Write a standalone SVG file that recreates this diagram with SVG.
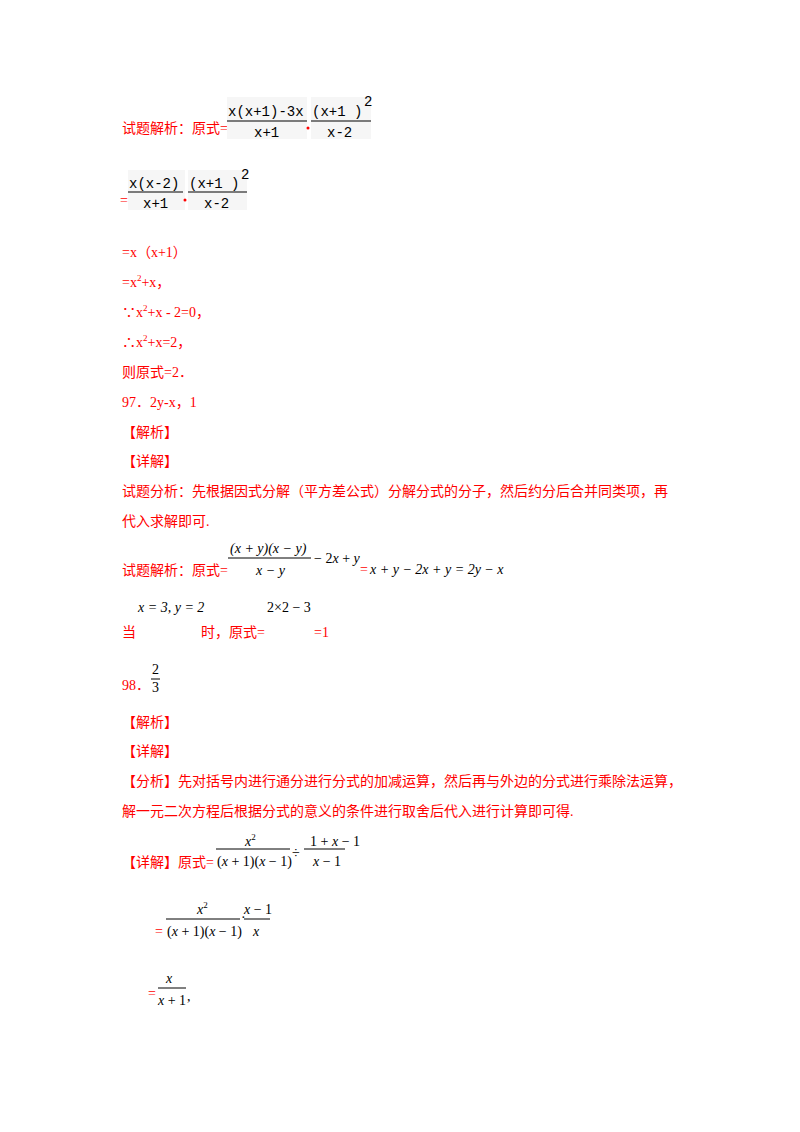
<svg xmlns="http://www.w3.org/2000/svg" width="800" height="1132" viewBox="0 0 800 1132">
<style>
.r{fill:#ff0000;font-family:"Liberation Serif","Noto Sans CJK SC",serif;font-size:14px}
.m{fill:#000;font-family:"Liberation Serif",serif;font-size:14px}
.i{font-style:italic}
.s{fill:#000;font-family:"Liberation Mono",monospace;font-size:14px}
.b{stroke:#000;stroke-width:1}
</style>
<rect width="800" height="1132" fill="#fff"/>
<text class="r" x="122" y="133">试题解析：原式=</text>
<rect x="227" y="97" width="80" height="42" fill="#f6f6f6"/>
<rect x="311" y="97" width="60" height="42" fill="#f6f6f6"/>
<text class="s" x="228" y="116">x(x+1)-3x</text>
<line class="b" x1="227" y1="121" x2="307" y2="121"/>
<text class="s" x="254" y="137">x+1</text>
<circle cx="308" cy="128" r="1.5" fill="#f00"/>
<text class="s" x="312" y="116">(x+1 )</text><text class="s" x="364" y="106" font-size="11">2</text>
<line class="b" x1="311" y1="121" x2="371" y2="121"/>
<text class="s" x="327" y="137">x-2</text>
<text class="r" x="120" y="205">=</text>
<rect x="128" y="170" width="57" height="40" fill="#f6f6f6"/>
<rect x="188" y="170" width="59" height="40" fill="#f6f6f6"/>
<text class="s" x="129" y="188">x(x-2)</text>
<line class="b" x1="128" y1="192" x2="183" y2="192"/>
<text class="s" x="143" y="208">x+1</text>
<circle cx="185" cy="200" r="1.5" fill="#f00"/>
<text class="s" x="189" y="188">(x+1 )</text><text class="s" x="241" y="179" font-size="11">2</text>
<line class="b" x1="188" y1="192" x2="247" y2="192"/>
<text class="s" x="204" y="208">x-2</text>
<text class="r" x="122" y="257">=x（x+1）</text>
<text class="r" x="122" y="287">=x<tspan font-size="9" dy="-6">2</tspan><tspan dy="6">+x，</tspan></text>
<text class="r" x="122" y="317">∵x<tspan font-size="9" dy="-6">2</tspan><tspan dy="6">+x - 2=0，</tspan></text>
<text class="r" x="122" y="347">∴x<tspan font-size="9" dy="-6">2</tspan><tspan dy="6">+x=2，</tspan></text>
<text class="r" x="122" y="377">则原式=2．</text>
<text class="r" x="122" y="407">97．2y-x，1</text>
<text class="r" x="122" y="437">【解析】</text>
<text class="r" x="122" y="466">【详解】</text>
<text class="r" x="122" y="496">试题分析：先根据因式分解（平方差公式）分解分式的分子，然后约分后合并同类项，再</text>
<text class="r" x="122" y="526">代入求解即可.</text>
<text class="r" x="122" y="575">试题解析：原式=</text>
<text class="m i" x="230" y="553">(x + y)(x − y)</text>
<line class="b" x1="228" y1="558" x2="311" y2="558"/>
<text class="m i" x="256" y="575">x − y</text>
<text class="m" x="314" y="563">− 2<tspan class="i">x</tspan> + <tspan class="i">y</tspan></text>
<text class="r" x="360" y="574">=</text>
<text class="m i" x="370" y="574">x + y − 2x + y = 2y − x</text>
<text class="r" x="122" y="637">当</text>
<text class="m i" x="138" y="612">x = 3, y = 2</text>
<text class="r" x="201" y="637">时，原式=</text>
<text class="m" x="267" y="612">2×2 − 3</text>
<text class="r" x="314" y="637">=1</text>
<text class="r" x="122" y="690">98．</text>
<text class="m" x="152" y="674">2</text>
<line class="b" x1="151" y1="679" x2="160" y2="679"/>
<text class="m" x="152" y="692">3</text>
<text class="r" x="122" y="727">【解析】</text>
<text class="r" x="122" y="756">【详解】</text>
<text class="r" x="122" y="786">【分析】先对括号内进行通分进行分式的加减运算，然后再与外边的分式进行乘除法运算，</text>
<text class="r" x="122" y="816">解一元二次方程后根据分式的意义的条件进行取舍后代入进行计算即可得.</text>
<text class="r" x="122" y="867">【详解】原式=</text>
<text class="m i" x="245" y="846">x<tspan font-size="9" dy="-6" font-style="normal">2</tspan></text>
<line class="b" x1="216" y1="849" x2="290" y2="849"/>
<text class="m" x="217" y="866">(<tspan class="i">x</tspan> + 1)(<tspan class="i">x</tspan> − 1)</text>
<text class="m" x="292" y="858">÷</text>
<text class="m" x="310" y="846">1 + <tspan class="i">x</tspan> − 1</text>
<line class="b" x1="304" y1="849" x2="345" y2="849"/>
<text class="m" x="313" y="866"><tspan class="i">x</tspan> − 1</text>
<text class="r" x="155" y="936">=</text>
<text class="m i" x="197" y="914">x<tspan font-size="9" dy="-6" font-style="normal">2</tspan></text>
<line class="b" x1="166" y1="919" x2="240" y2="919"/>
<text class="m" x="167" y="936">(<tspan class="i">x</tspan> + 1)(<tspan class="i">x</tspan> − 1)</text>
<text class="m" x="241" y="922">·</text>
<text class="m" x="244" y="914"><tspan class="i">x</tspan> − 1</text>
<line class="b" x1="244" y1="919" x2="270" y2="919"/>
<text class="m i" x="253" y="936">x</text>
<text class="r" x="148" y="998">=</text>
<text class="m i" x="166" y="983">x</text>
<line class="b" x1="158" y1="988" x2="186" y2="988"/>
<text class="m" x="158" y="1005"><tspan class="i">x</tspan> + 1</text>
<text class="m" x="187" y="1001">,</text>
</svg>
